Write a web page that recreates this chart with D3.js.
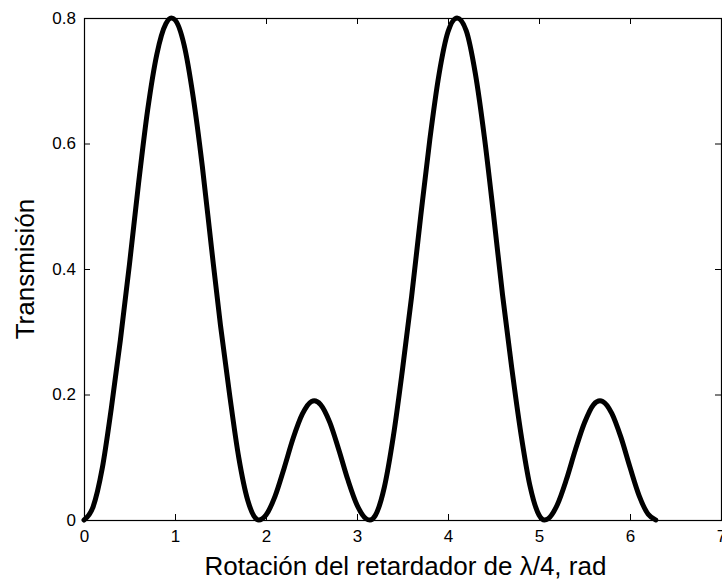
<!DOCTYPE html>
<html>
<head>
<meta charset="utf-8">
<script src="https://cdn.jsdelivr.net/npm/d3@7"></script>
<style>
  html, body { margin: 0; padding: 0; background: #fff; }
  svg { display: block; }
  text { font-family: "Liberation Sans", Arial, Helvetica, sans-serif; fill: #000; }
</style>
</head>
<body>
<svg id="chart" width="722" height="583"></svg>
<script>
// Rotation angle of the quarter-wave retarder (rad)
const angle = [
  0, 0.1, 0.2, 0.3, 0.4, 0.5, 0.6, 0.7, 0.8, 0.9, 0.96, 1.0, 1.1, 1.2, 1.3, 1.4, 1.5, 1.6, 1.7, 1.8, 1.9, 1.92,
  2.0, 2.1, 2.2, 2.3, 2.4, 2.5, 2.53, 2.6, 2.7, 2.8, 2.9, 3.0, 3.1, 3.1416,
  3.2, 3.3, 3.4, 3.5, 3.6, 3.7, 3.8, 3.9, 4.0, 4.1, 4.2, 4.3, 4.4, 4.5, 4.6, 4.7, 4.8, 4.9, 5.0, 5.06,
  5.1, 5.2, 5.3, 5.4, 5.5, 5.6, 5.67, 5.7, 5.8, 5.9, 6.0, 6.1, 6.2, 6.2832
];
// Measured transmission at each angle
const transmission = [
  0, 0.021, 0.082, 0.178, 0.287, 0.408, 0.537, 0.654, 0.742, 0.791, 0.800, 0.797, 0.757, 0.674, 0.564, 0.435, 0.310, 0.200, 0.100, 0.031, 0.001, 0,
  0.008, 0.038, 0.083, 0.131, 0.169, 0.189, 0.190, 0.184, 0.156, 0.112, 0.064, 0.024, 0.002, 0,
  0.007, 0.052, 0.134, 0.240, 0.356, 0.484, 0.606, 0.709, 0.778, 0.800, 0.780, 0.712, 0.610, 0.487, 0.358, 0.243, 0.139, 0.055, 0.008, 0,
  0.002, 0.024, 0.064, 0.112, 0.155, 0.184, 0.190, 0.189, 0.170, 0.132, 0.084, 0.039, 0.009, 0
];
const xTicks = [0, 1, 2, 3, 4, 5, 6, 7];
const yTicks = [0, 0.2, 0.4, 0.6, 0.8];
const xLabel = "Rotación del retardador de λ/4, rad";
const yLabel = "Transmisión";

const svg = d3.select("#chart");
const plotLeft = 84, plotRight = 721, plotTop = 18, plotBottom = 520;

const x = d3.scaleLinear().domain([0, 7]).range([plotLeft, plotRight]);
const y = d3.scaleLinear().domain([0, 0.8]).range([plotBottom, plotTop]);

const tickLen = 6;
const fmt = d => (d === 0 ? "0" : d3.format("")(d));

// Bottom axis with labels
const gx = svg.append("g").attr("transform", `translate(0,${plotBottom})`)
  .call(d3.axisBottom(x).tickValues(xTicks).tickFormat(fmt).tickSizeInner(-tickLen).tickSizeOuter(0).tickPadding(10));
// Top axis, ticks only
const gxt = svg.append("g").attr("transform", `translate(0,${plotTop})`)
  .call(d3.axisTop(x).tickValues(xTicks).tickFormat("").tickSizeInner(-tickLen).tickSizeOuter(0));
// Left axis with labels
const gy = svg.append("g").attr("transform", `translate(${plotLeft},0)`)
  .call(d3.axisLeft(y).tickValues(yTicks).tickFormat(fmt).tickSizeInner(-tickLen).tickSizeOuter(0).tickPadding(8));
// Right axis, ticks only
const gyr = svg.append("g").attr("transform", `translate(${plotRight},0)`)
  .call(d3.axisRight(y).tickValues(yTicks).tickFormat("").tickSizeInner(-tickLen).tickSizeOuter(0));

[gx, gxt, gy, gyr].forEach(g => {
  g.select(".domain").remove();
  g.selectAll(".tick line").attr("stroke", "#000").attr("stroke-width", 1);
  g.selectAll(".tick text")
    .attr("font-family", '"Liberation Sans", Arial, sans-serif')
    .attr("font-size", 17).attr("fill", "#000");
});

// Axes box
svg.append("rect")
  .attr("x", plotLeft + 0.5).attr("y", plotTop + 0.5)
  .attr("width", plotRight - plotLeft).attr("height", plotBottom - plotTop)
  .attr("fill", "none").attr("stroke", "#000").attr("stroke-width", 1.2);

// Transmission curve
const pts = angle.map((a, i) => [a, transmission[i]]);
svg.append("path")
  .datum(pts)
  .attr("fill", "none")
  .attr("stroke", "#000")
  .attr("stroke-width", 5)
  .attr("stroke-linejoin", "round")
  .attr("stroke-linecap", "round")
  .attr("d", d3.line().x(d => x(d[0])).y(d => y(d[1])).curve(d3.curveMonotoneX));

// Axis titles
svg.append("text")
  .attr("x", (plotLeft + plotRight) / 2 + 3).attr("y", 575)
  .attr("text-anchor", "middle")
  .attr("font-size", 26)
  .text(xLabel);

svg.append("text")
  .attr("transform", `translate(34,${(plotTop + plotBottom) / 2}) rotate(-90)`)
  .attr("text-anchor", "middle")
  .attr("font-size", 26)
  .text(yLabel);
</script>
</body>
</html>
